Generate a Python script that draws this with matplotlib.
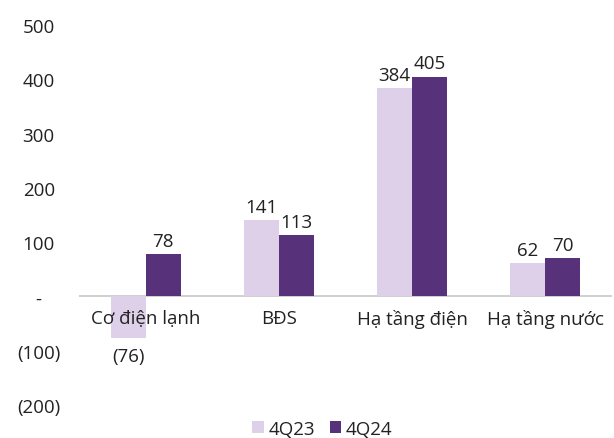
import numpy as np
import matplotlib.pyplot as plt

categories = ["Cơ điện lạnh", "BĐS", "Hạ tầng điện", "Hạ tầng nước"]
values_4q23 = [-76, 141, 384, 62]
values_4q24 = [78, 113, 405, 70]
series_names = ["4Q23", "4Q24"]
y_ticks = [-200, -100, 0, 100, 200, 300, 400, 500]
y_tick_labels = ["(200)", "(100)", "-", "100", "200", "300", "400", "500"]

color_light = "#DDD0E8"
color_dark = "#57327A"
text_color = "#222222"

plt.rcParams['font.family'] = ['Open Sans', 'DejaVu Sans']
fs = 13.5

fig = plt.figure(figsize=(6.14, 4.39), dpi=100)
ax = fig.add_axes([0.1287, 0.0752, 0.868, 0.8656])

x = np.arange(len(categories))
w = 0.262

bars1 = ax.bar(x - w / 2, values_4q23, w, color=color_light, label=series_names[0])
bars2 = ax.bar(x + w / 2, values_4q24, w, color=color_dark, label=series_names[1])


def fmt(v):
    return "({})".format(abs(v)) if v < 0 else str(v)


for bars, vals in ((bars1, values_4q23), (bars2, values_4q24)):
    for b, v in zip(bars, vals):
        cx = b.get_x() + b.get_width() / 2
        if v >= 0:
            ax.annotate(fmt(v), (cx, v), xytext=(0, 3), textcoords="offset points",
                        ha="center", va="bottom", fontsize=fs, color=text_color)
        else:
            ax.annotate(fmt(v), (cx, v), xytext=(0, -7), textcoords="offset points",
                        ha="center", va="top", fontsize=fs, color=text_color)

ax.axhline(0, color="#C8C8C8", linewidth=1.2, zorder=0)

# category labels sit right under the zero line
for xi, c in zip(x, categories):
    ax.annotate(c, (xi, 0), xytext=(0, -9), textcoords="offset points",
                ha="center", va="top", fontsize=fs, color=text_color)

ax.set_xlim(-0.5, len(categories) - 0.5)
ax.set_ylim(-200, 500)
ax.set_yticks(y_ticks)
ax.set_yticklabels(y_tick_labels, fontsize=fs, color=text_color, ha="center")
ax.tick_params(axis="y", length=0, pad=29)
ax.set_xticks([])
for s in ax.spines.values():
    s.set_visible(False)

fig.legend(loc="lower center", bbox_to_anchor=(0.525, -0.038), ncol=2, frameon=False,
           fontsize=fs, handlelength=0.6, handleheight=0.6, handletextpad=0.25,
           columnspacing=0.8, labelcolor=text_color)

fig.savefig("out.png", dpi=100)
